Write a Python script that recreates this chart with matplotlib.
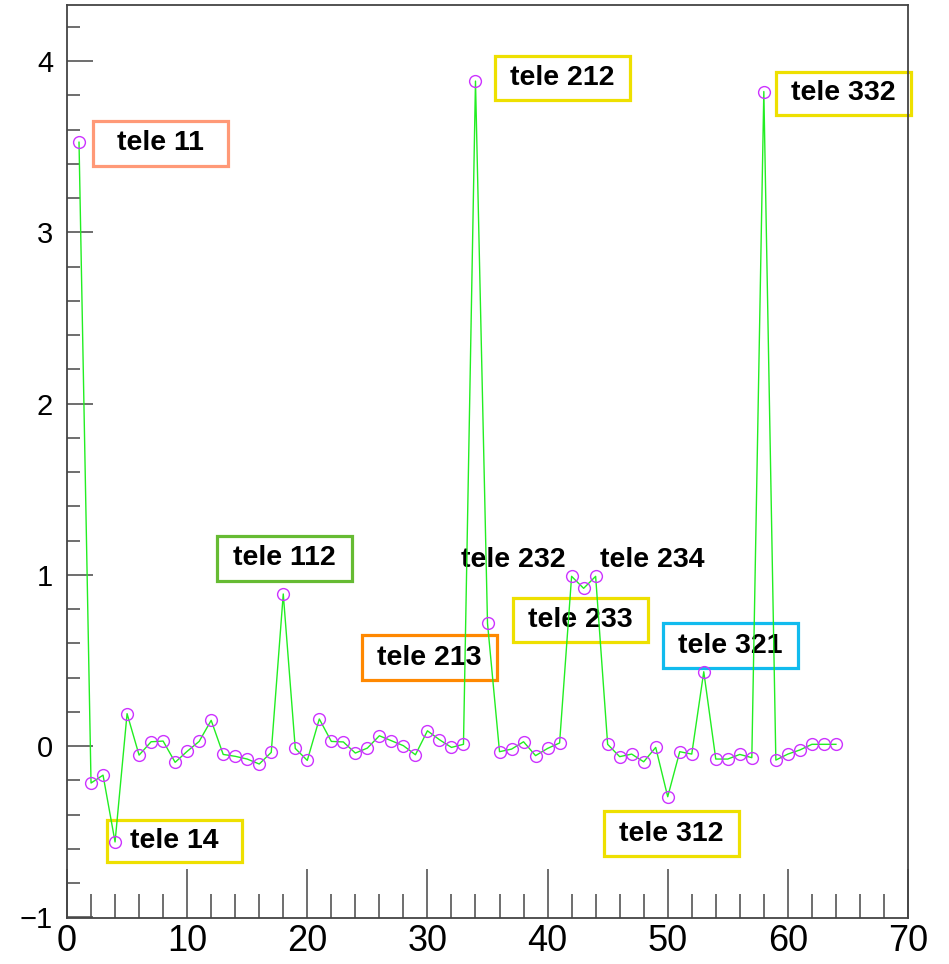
import numpy as np
import matplotlib.pyplot as plt
from matplotlib.patches import Rectangle
from matplotlib.ticker import MultipleLocator

# telescope index and value
tele_idx = np.arange(1, 65)
values = [3.526, -0.216, -0.17, -0.56, 0.189, -0.053, 0.025, 0.029, -0.095, -0.031,
          0.027, 0.15, -0.049, -0.06, -0.076, -0.105, -0.037, 0.888, -0.014, -0.084,
          0.158, 0.027, 0.024, -0.041, -0.012, 0.06, 0.031, 0.002, -0.051, 0.089,
          0.037, -0.008, 0.01, 3.883, 0.717, -0.033, -0.018, 0.025, -0.056, -0.014,
          0.018, 0.991, 0.921, 0.991, 0.01, -0.062, -0.047, -0.092, -0.008, -0.296,
          -0.033, -0.047, 0.434, -0.076, -0.076, -0.049, -0.068, 3.822, -0.082, -0.047,
          -0.023, 0.01, 0.01, 0.01]

# boxed labels: text, (x0, y0, x1, y1) in data units, border colour
box_labels = ['tele 11', 'tele 212', 'tele 332', 'tele 112', 'tele 213',
              'tele 233', 'tele 321', 'tele 14', 'tele 312']
box_pos = [(2.16, 3.39, 13.40, 3.65), (35.63, 3.77, 46.86, 4.03),
           (59.01, 3.686, 70.25, 3.937), (12.49, 0.964, 23.72, 1.227),
           (24.55, 0.386, 35.79, 0.648), (37.12, 0.607, 48.36, 0.864),
           (49.61, 0.456, 60.85, 0.718), (3.33, -0.678, 14.57, -0.432),
           (44.70, -0.643, 55.93, -0.380)]
box_colors = ['#ff9977', '#eee000', '#eee000', '#66bb33', '#ff8800',
              '#eee000', '#11bbee', '#eee000', '#eee000']

# plain labels
plain_labels = ['tele 232', 'tele 234']
plain_pos = [(37.12, 1.086), (48.69, 1.086)]

fig = plt.figure(figsize=(9.49, 9.64), dpi=100)
ax = fig.add_axes([0.0706, 0.0477, 0.8862, 0.9471])

# boxes go under the graph, the graph line is drawn over them
for txt, (x0, y0, x1, y1), col in zip(box_labels, box_pos, box_colors):
    ax.add_patch(Rectangle((x0, y0), x1 - x0, y1 - y0, facecolor='white',
                           edgecolor=col, linewidth=2.3, zorder=1, clip_on=False))
    ax.text((x0 + x1) / 2, (y0 + y1) / 2, txt, ha='center', va='center',
            fontsize=20.5, fontweight='bold', family='Liberation Sans', zorder=1.5)

for txt, (x, y) in zip(plain_labels, plain_pos):
    ax.text(x, y, txt, ha='center', va='center', fontsize=20.5,
            fontweight='bold', family='Liberation Sans', zorder=1.5)

ax.plot(tele_idx, values, color='#22ee22', linewidth=1.0, zorder=2)
ax.plot(tele_idx, values, linestyle='none', marker='o', markersize=8.5,
        markerfacecolor='none', markeredgecolor='#cc33ff', markeredgewidth=1.0, zorder=3)

rng = max(values) - min(values)
ax.set_xlim(0, 70)
ax.set_ylim(min(values) - 0.1 * rng, max(values) + 0.1 * rng)

ax.xaxis.set_major_locator(MultipleLocator(10))
ax.xaxis.set_minor_locator(MultipleLocator(2))
ax.yaxis.set_major_locator(MultipleLocator(1))
ax.yaxis.set_minor_locator(MultipleLocator(0.2))

ax.tick_params(axis='both', which='both', direction='in', color='#555555', width=1.2)
ax.tick_params(axis='y', which='major', length=19, pad=10, labelsize=21)
ax.tick_params(axis='y', which='minor', length=9)
ax.tick_params(axis='x', which='major', length=35, pad=4, labelsize=26)
ax.tick_params(axis='x', which='minor', length=17)

for lab in ax.get_xticklabels() + ax.get_yticklabels():
    lab.set_family('Liberation Sans')

for sp in ax.spines.values():
    sp.set_color('#444444')
    sp.set_linewidth(1.3)

fig.savefig('out.png', dpi=100)
